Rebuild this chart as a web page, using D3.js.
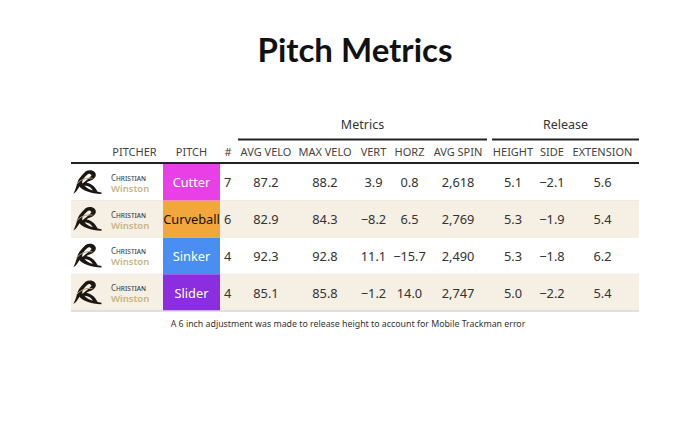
<!DOCTYPE html>
<html lang="en">
<head>
<meta charset="utf-8">
<title>Pitch Metrics</title>
<script src="https://cdn.jsdelivr.net/npm/d3@7"></script>
<style>
  body { margin: 0; background: #fff; }
  svg text { font-family: "Noto Sans", sans-serif; }
</style>
</head>
<body>
<script>
// data
var pitcherFirst = ["Christian", "Christian", "Christian", "Christian"];
var pitcherLast = ["Winston", "Winston", "Winston", "Winston"];
var pitches = ["Cutter", "Curveball", "Sinker", "Slider"];
var counts = [7, 6, 4, 4];
var avgVelo = [87.2, 82.9, 92.3, 85.1];
var maxVelo = [88.2, 84.3, 92.8, 85.8];
var vert = [3.9, -8.2, 11.1, -1.2];
var horz = [0.8, 6.5, -15.7, 14.0];
var avgSpin = [2618, 2769, 2490, 2747];
var relHeight = [5.1, 5.3, 5.3, 5.0];
var relSide = [-2.1, -1.9, -1.8, -2.2];
var extension = [5.6, 5.4, 6.2, 5.4];

var columnLabels = ["", "PITCHER", "PITCH", "#", "AVG VELO", "MAX VELO", "VERT", "HORZ", "AVG SPIN", "HEIGHT", "SIDE", "EXTENSION"];
var spanners = ["Metrics", "Release"];
var pitchColors = ["#e83fe6", "#f2a73c", "#4b8ef2", "#8a2ee0"];
var pitchText = ["#fff", "#111", "#fff", "#fff"];
var title = "Pitch Metrics";
var note = "A 6 inch adjustment was made to release height to account for Mobile Trackman error";

// layout
var w = 680, h = 443;
var left = 71, right = 639;
var colEdges = [71, 106, 163, 220, 238, 294, 356, 391, 428, 488, 538, 566, 639];
var headerY = 152, bodyTop = 164, bodyBottom = 311;

var f1 = d3.format(".1f"), fc = d3.format(",");

var rows = pitches.map(function(p, i) {
  return {
    first: pitcherFirst[i], last: pitcherLast[i], pitch: p, color: pitchColors[i], tcol: pitchText[i],
    cells: [String(counts[i]), f1(avgVelo[i]), f1(maxVelo[i]), f1(vert[i]), f1(horz[i]),
            fc(avgSpin[i]), f1(relHeight[i]), f1(relSide[i]), f1(extension[i])]
  };
});

var y = d3.scaleBand().domain(d3.range(rows.length)).range([bodyTop, bodyBottom]);
var colMid = function(i) { return (colEdges[i] + colEdges[i + 1]) / 2; };

var svg = d3.select("body").append("svg").attr("width", w).attr("height", h);

// title
svg.append("text")
  .attr("x", 355).attr("y", 62)
  .attr("text-anchor", "middle")
  .style("font-family", "Lato, sans-serif")
  .style("font-weight", "bold")
  .style("font-size", "33px")
  .attr("fill", "#111")
  .text(title);

// spanners
var spanCols = [[4, 8], [9, 11]];
spanCols.forEach(function(c, i) {
  var x0 = colEdges[c[0]] + (i == 0 ? 0 : 4), x1 = colEdges[c[1] + 1] - (i == 0 ? 1 : 0);
  svg.append("text")
    .attr("x", (x0 + x1) / 2).attr("y", 129)
    .attr("text-anchor", "middle")
    .style("font-size", "12.5px").attr("fill", "#333")
    .text(spanners[i]);
  svg.append("line")
    .attr("x1", x0).attr("x2", x1).attr("y1", 139.5).attr("y2", 139.5)
    .attr("stroke", "#222").attr("stroke-width", 2);
});

// column headers
svg.selectAll("text.colhead")
  .data(columnLabels)
  .enter().append("text")
  .attr("class", "colhead")
  .attr("x", function(d, i) { return i == 3 ? colEdges[3] + 8 : colMid(i); })
  .attr("y", headerY + 4)
  .attr("text-anchor", "middle")
  .style("font-size", "11px").attr("fill", "#444")
  .text(function(d) { return d; });

// row backgrounds
var rowG = svg.selectAll("g.row")
  .data(rows)
  .enter().append("g")
  .attr("class", "row")
  .attr("transform", function(d, i) { return "translate(0," + y(i) + ")"; });

rowG.append("rect")
  .attr("x", left).attr("width", right - left)
  .attr("height", y.bandwidth())
  .attr("fill", function(d, i) { return i % 2 ? "#f6efe3" : "#fff"; });

rowG.append("line")
  .attr("x1", left).attr("x2", right)
  .attr("y1", y.bandwidth()).attr("y2", y.bandwidth())
  .attr("stroke", "#e4e0da").attr("stroke-width", 1);

// logo (stylised mascot)
var logo = rowG.append("g").attr("transform", "translate(" + colMid(0) + "," + (y.bandwidth() / 2) + ")");
logo.append("path")
  .attr("d", "M-3,-11 C2,-14 9,-11 7,-6 C5,-2 1,-2 -2,0 C2,1 6,3 9,9 L5,9 C3,5 0,3 -4,3 C-2,6 3,8 13,10 L13,11.5 C2,11 -6,8 -9,4 C-12,9 -14,11 -15,11 C-13,7 -12,3 -11,0 C-10,-4 -6,-8 -3,-11 Z M-1,-8 C-5,-5 -7,-1 -6,1 C-3,-2 1,-4 3,-7 C2,-9 0,-9 -1,-8 Z")
  .attr("fill", "#1c1712");
logo.append("path")
  .attr("d", "M-12,2 C-8,-3 -2,-5 4,-4")
  .attr("fill", "none").attr("stroke", "#b8a06a").attr("stroke-width", 1);

// pitcher names
rowG.append("text")
  .attr("x", 111).attr("y", y.bandwidth() / 2 - 1.5)
  .style("font-size", "8px").style("font-variant", "small-caps")
  .attr("fill", "#444")
  .text(function(d) { return d.first; });
rowG.append("text")
  .attr("x", 111).attr("y", y.bandwidth() / 2 + 9.5)
  .style("font-size", "9.5px").style("font-weight", "600")
  .attr("fill", "#c9b482")
  .text(function(d) { return d.last; });

// pitch cell
rowG.append("rect")
  .attr("x", colEdges[2]).attr("width", colEdges[3] - colEdges[2])
  .attr("height", y.bandwidth())
  .attr("fill", function(d) { return d.color; });
rowG.append("text")
  .attr("x", colMid(2)).attr("y", y.bandwidth() / 2 + 5)
  .attr("text-anchor", "middle")
  .style("font-size", "12.8px")
  .attr("fill", function(d) { return d.tcol; })
  .text(function(d) { return d.pitch; });

// numeric cells
rowG.selectAll("text.val")
  .data(function(d) { return d.cells; })
  .enter().append("text")
  .attr("class", "val")
  .attr("x", function(d, j) { return j == 0 ? colEdges[3] + 4 : colMid(j + 3); })
  .attr("y", y.bandwidth() / 2 + 5)
  .attr("text-anchor", function(d, j) { return j == 0 ? "start" : "middle"; })
  .style("font-size", "12.8px").attr("fill", "#333")
  .text(function(d) { return d; });

// header rule and bottom rule
svg.append("line")
  .attr("x1", left).attr("x2", right).attr("y1", bodyTop - 1).attr("y2", bodyTop - 1)
  .attr("stroke", "#222").attr("stroke-width", 2);
svg.append("line")
  .attr("x1", left).attr("x2", right).attr("y1", bodyBottom).attr("y2", bodyBottom)
  .attr("stroke", "#ddd").attr("stroke-width", 1.5);

// footnote
svg.append("text")
  .attr("x", 348).attr("y", 327)
  .attr("text-anchor", "middle")
  .style("font-size", "8.8px").attr("fill", "#333")
  .text(note);
</script>
</body>
</html>
